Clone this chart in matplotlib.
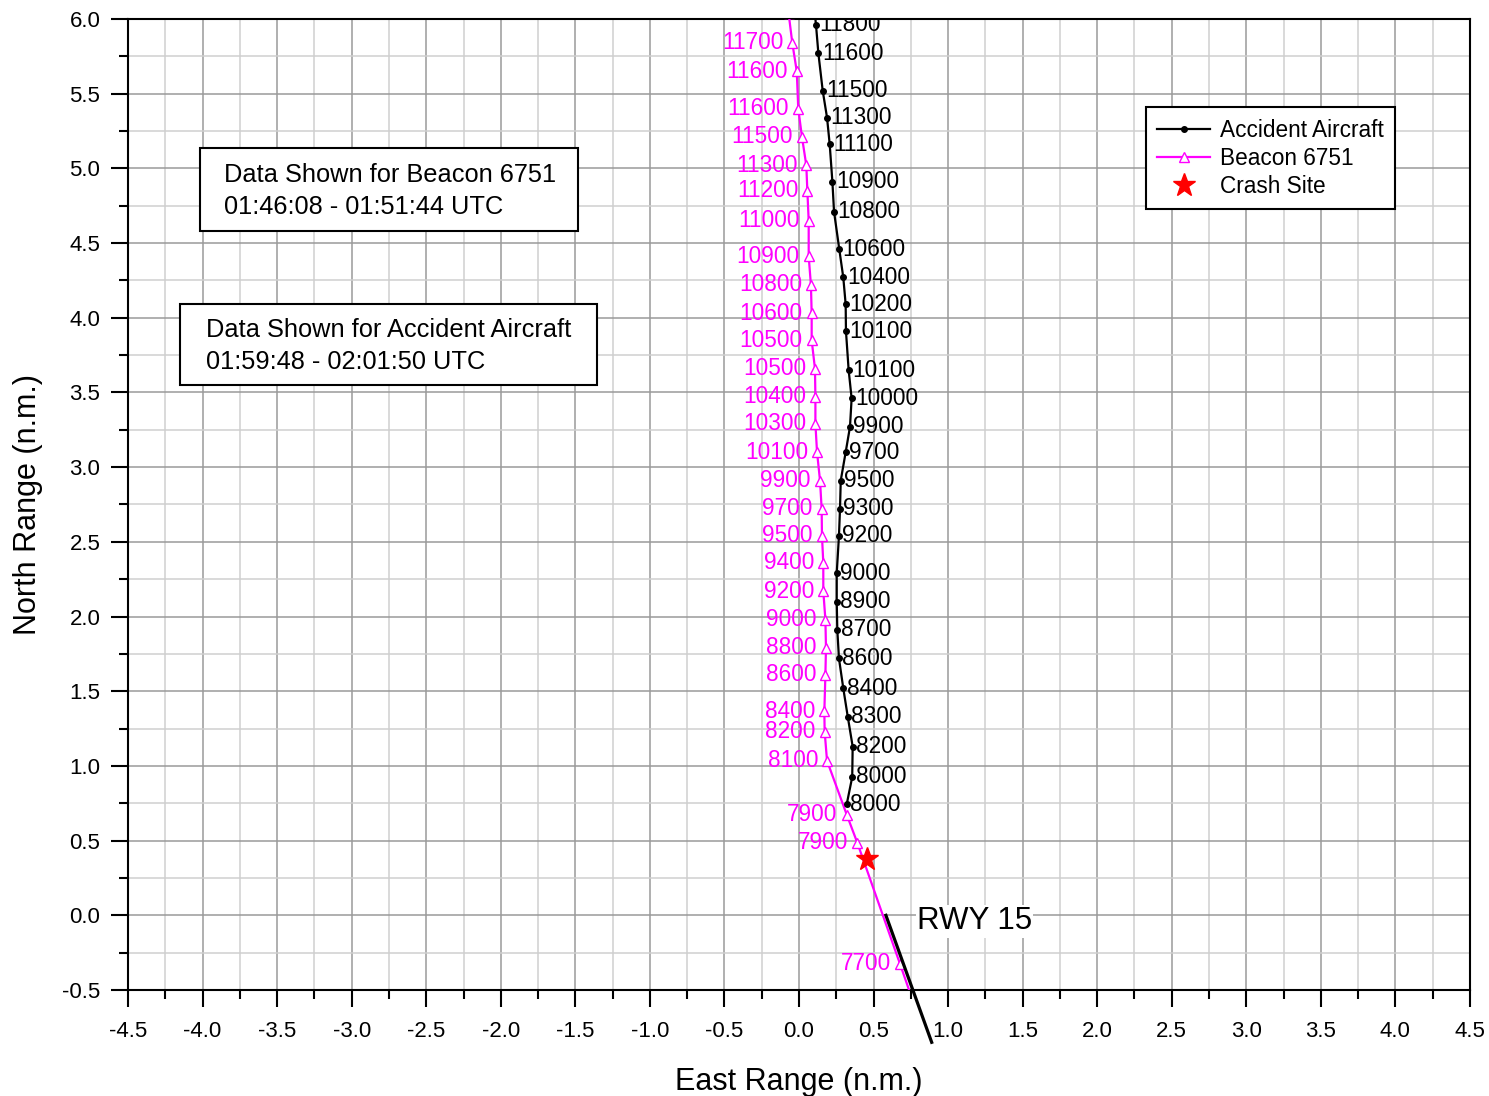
import matplotlib
matplotlib.use('Agg')
from matplotlib import pyplot as plt
from matplotlib.patches import Rectangle
from matplotlib.ticker import MultipleLocator, FormatStrFormatter

plt.rcParams['font.family'] = ['Liberation Sans', 'DejaVu Sans']

# accident aircraft track (east, north in n.m.) and altitude labels
acc_x = [0.10, 0.114, 0.13, 0.159, 0.188, 0.206, 0.224, 0.235, 0.27, 0.297,
         0.313, 0.315, 0.333, 0.353, 0.342, 0.313, 0.28, 0.275, 0.268, 0.253,
         0.253, 0.257, 0.268, 0.297, 0.327, 0.36, 0.357, 0.32]
acc_y = [6.10, 5.96, 5.77, 5.52, 5.34, 5.16, 4.91, 4.71, 4.46, 4.27,
         4.09, 3.91, 3.65, 3.46, 3.27, 3.10, 2.91, 2.72, 2.54, 2.29,
         2.10, 1.91, 1.72, 1.52, 1.33, 1.13, 0.926, 0.743]
acc_alt = ["", "11800", "11600", "11500", "11300", "11100", "10900", "10800", "10600", "10400",
           "10200", "10100", "10100", "10000", "9900", "9700", "9500", "9300", "9200", "9000",
           "8900", "8700", "8600", "8400", "8300", "8200", "8000", "8000"]

# beacon 6751 track
bcn_x = [-0.07, -0.045, -0.015, -0.005, 0.02, 0.049, 0.056, 0.065, 0.065, 0.08,
         0.085, 0.085, 0.107, 0.11, 0.11, 0.121, 0.141, 0.152, 0.154, 0.163,
         0.163, 0.177, 0.181, 0.177, 0.17, 0.172, 0.188, 0.32, 0.391, 0.677, 0.78]
bcn_y = [6.04, 5.84, 5.65, 5.40, 5.21, 5.02, 4.85, 4.65, 4.41, 4.22,
         4.03, 3.85, 3.66, 3.47, 3.29, 3.10, 2.91, 2.72, 2.54, 2.36,
         2.17, 1.98, 1.79, 1.61, 1.365, 1.23, 1.035, 0.674, 0.486, -0.324, -0.62]
bcn_alt = ["11800", "11700", "11600", "11600", "11500", "11300", "11200", "11000", "10900", "10800",
           "10600", "10500", "10500", "10400", "10300", "10100", "9900", "9700", "9500", "9400",
           "9200", "9000", "8800", "8600", "8400", "8200", "8100", "7900", "7900", "7700", ""]

crash_x = [0.455]
crash_y = [0.379]

rwy_x = [0.583, 0.89]
rwy_y = [0.0, -0.85]

fig = plt.figure(figsize=(14.89, 10.96), dpi=100)
ax = fig.add_axes([0.086, 0.0967, 0.9012, 0.886])

ax.set_xlim(-4.5, 4.5)
ax.set_ylim(-0.5, 6.0)
ax.xaxis.set_major_locator(MultipleLocator(0.5))
ax.xaxis.set_minor_locator(MultipleLocator(0.25))
ax.yaxis.set_major_locator(MultipleLocator(0.5))
ax.yaxis.set_minor_locator(MultipleLocator(0.25))
ax.xaxis.set_major_formatter(FormatStrFormatter('%.1f'))
ax.yaxis.set_major_formatter(FormatStrFormatter('%.1f'))

ax.grid(which='major', color='#9a9a9a', lw=1.1, zorder=0)
ax.grid(which='minor', color='#cfcfcf', lw=1.1, zorder=0)
ax.set_axisbelow(True)

ax.tick_params(which='major', direction='out', length=12, width=1.5, labelsize=16)
ax.tick_params(axis='x', which='major', pad=10)
ax.tick_params(axis='y', which='major', pad=8)
ax.tick_params(which='minor', direction='out', length=6.5, width=1.5)
for s in ax.spines.values():
    s.set_linewidth(1.5)
    s.set_color('black')

ax.plot(acc_x, acc_y, '-', color='black', lw=1.6, marker='o', ms=4,
        label='Accident Aircraft', zorder=4)
ax.plot(bcn_x, bcn_y, '-', color='#ff00ff', lw=1.6, marker='^', ms=7,
        mfc='white', mec='#ff00ff', mew=1.0, label='Beacon 6751', zorder=3)
ax.plot(crash_x, crash_y, '*', color='red', ms=17, ls='none', label='Crash Site', zorder=5)

# runway line (runs off the bottom of the axes)
ax.plot(rwy_x, rwy_y, '-', color='black', lw=2.3, clip_on=False, zorder=6)

for x, y, t in zip(acc_x, acc_y, acc_alt):
    if t:
        ax.annotate(t, (x, y), xytext=(2.5, 0), textcoords='offset points',
                    ha='left', va='center', fontsize=16.3, color='black', clip_on=True)
for x, y, t in zip(bcn_x, bcn_y, bcn_alt):
    if t:
        ax.annotate(t, (x, y), xytext=(-6.5, 0), textcoords='offset points',
                    ha='right', va='center', fontsize=16.3, color='#ff00ff', clip_on=True)

ax.text(0.79, -0.04, 'RWY 15', fontsize=22.5, ha='left', va='center', zorder=7,
        bbox=dict(facecolor='white', edgecolor='none', pad=1))

# info boxes
ax.add_patch(Rectangle((0.0537, 0.7817), 0.2817, 0.0855, transform=ax.transAxes,
                       facecolor='white', edgecolor='black', lw=1.5, zorder=8))
ax.text(0.0715, 0.8394, 'Data Shown for Beacon 6751', transform=ax.transAxes,
        fontsize=18.3, va='center', ha='left', zorder=9)
ax.text(0.0715, 0.8064, '01:46:08 - 01:51:44 UTC', transform=ax.transAxes,
        fontsize=18.3, va='center', ha='left', zorder=9)

ax.add_patch(Rectangle((0.0387, 0.623), 0.3107, 0.0834, transform=ax.transAxes,
                       facecolor='white', edgecolor='black', lw=1.5, zorder=8))
ax.text(0.0581, 0.6798, 'Data Shown for Accident Aircraft', transform=ax.transAxes,
        fontsize=18.3, va='center', ha='left', zorder=9)
ax.text(0.0581, 0.6468, '01:59:48 - 02:01:50 UTC', transform=ax.transAxes,
        fontsize=18.3, va='center', ha='left', zorder=9)

leg = ax.legend(loc='upper right', bbox_to_anchor=(0.944, 0.909), fontsize=16.3,
                fancybox=False, framealpha=1, edgecolor='black', borderpad=0.5,
                borderaxespad=0, handlelength=2.3, handletextpad=0.45, labelspacing=0.23)
leg.get_frame().set_linewidth(1.5)
leg.set_zorder(10)

ax.set_xlabel('East Range (n.m.)', fontsize=22, labelpad=18)
ax.set_ylabel('North Range (n.m.)', fontsize=22, labelpad=14)

fig.savefig('out.png', dpi=100)
